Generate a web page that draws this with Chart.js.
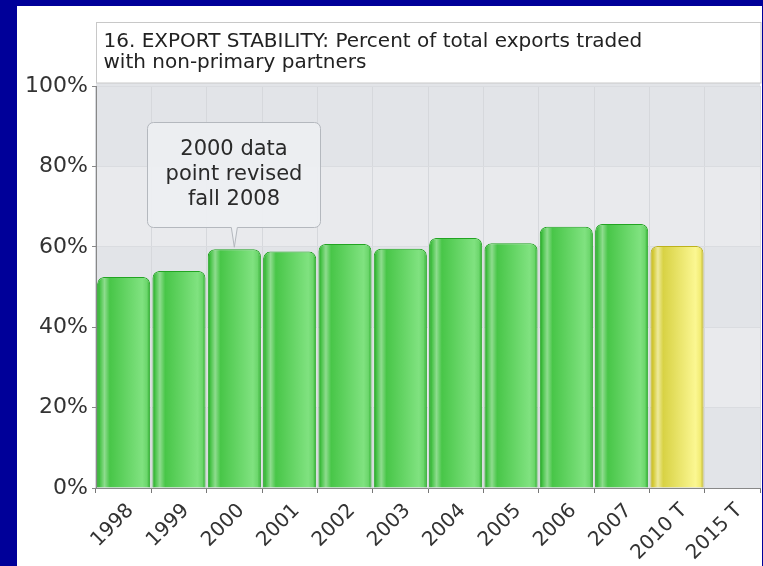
<!DOCTYPE html>
<html>
<head>
<meta charset="utf-8">
<script src="https://cdn.jsdelivr.net/npm/chart.js@4"></script>
<style>
  html, body { margin: 0; padding: 0; }
  body { background: #000099; width: 763px; height: 566px; overflow: hidden; position: relative; }
  #panel { position: absolute; left: 17px; top: 6px; width: 745px; height: 560px; background: #ffffff; }
  canvas { display: block; }
</style>
</head>
<body>
<div id="panel"><canvas id="chart" width="745" height="560"></canvas></div>
<script>
// chart data
const categories = ['1998', '1999', '2000', '2001', '2002', '2003', '2004', '2005', '2006', '2007', '2010 T', '2015 T'];
const exportShare = [52.5, 54.0, 59.4, 58.8, 60.7, 59.5, 62.2, 60.9, 65.0, 65.7, 60.2, null];
const isTarget = [false, false, false, false, false, false, false, false, false, false, true, true];
const yTicks = [0, 20, 40, 60, 80, 100];
const titleLines = ['16. EXPORT STABILITY: Percent of total exports traded', 'with non-primary partners'];
const noteLines = ['2000 data', 'point revised', 'fall 2008'];
const noteIndex = 2;

const FONT = '"DejaVu Sans", Verdana, sans-serif';

function barGradient(ctx, left, right, target) {
    var g = ctx.createLinearGradient(left, 0, right, 0);
    if (target) {
        g.addColorStop(0, '#c2b622');
        g.addColorStop(0.06, '#d6cc3c');
        g.addColorStop(0.14, '#eeea9c');
        g.addColorStop(0.24, '#d8d244');
        g.addColorStop(0.85, '#fbf792');
        g.addColorStop(0.94, '#f2ec74');
        g.addColorStop(1, '#bfb41e');
    } else {
        g.addColorStop(0, '#1ea41e');
        g.addColorStop(0.06, '#4ec64e');
        g.addColorStop(0.14, '#8edc8e');
        g.addColorStop(0.24, '#48c648');
        g.addColorStop(0.85, '#80e280');
        g.addColorStop(0.94, '#6cd66c');
        g.addColorStop(1, '#24aa24');
    }
    return g;
}

// light / darker bands behind the bars, plus the title box
const backdrop = {
    id: 'backdrop',
    beforeDraw(chart) {
        const { ctx, chartArea, scales } = chart;
        ctx.save();
        ctx.fillStyle = '#e2e4e8';
        ctx.fillRect(chartArea.left, chartArea.top - 3, chartArea.right - chartArea.left, chartArea.bottom - chartArea.top + 3);
        for (let i = 0; i < yTicks.length - 1; i++) {
            if (i % 2 === 1) {
                const yb = scales.y.getPixelForValue(yTicks[i]);
                const yt = scales.y.getPixelForValue(yTicks[i + 1]);
                ctx.fillStyle = '#e9eaed';
                ctx.fillRect(chartArea.left, yt, chartArea.right - chartArea.left, yb - yt);
            }
        }
        // title box
        const bx = chartArea.left + 0.5, by = 16.5;
        const bw = chart.width - 1 - bx, bh = chartArea.top - 3 - by;
        ctx.fillStyle = '#ffffff';
        ctx.fillRect(bx, by, bw, bh);
        ctx.strokeStyle = '#c8c8c8';
        ctx.lineWidth = 1;
        ctx.strokeRect(bx, by, bw, bh);
        ctx.fillStyle = '#222222';
        ctx.font = '20px ' + FONT;
        ctx.textBaseline = 'middle';
        ctx.textAlign = 'left';
        titleLines.forEach(function (line, i) {
            ctx.fillText(line, bx + 7, by + 19 + i * 21);
        });
        ctx.restore();
    }
};

// callout pointing at the revised bar
const callout = {
    id: 'callout',
    afterDatasetsDraw(chart) {
        const { ctx, scales } = chart;
        const tipX = scales.x.getPixelForValue(noteIndex);
        const tipY = scales.y.getPixelForValue(exportShare[noteIndex]) - 2;
        const w = 173, h = 105;
        const left = Math.round(tipX - 87) + 0.5;
        const bottom = Math.round(tipY - 20) + 0.5;
        const top = bottom - h;
        const r = 6;
        ctx.save();
        ctx.beginPath();
        ctx.moveTo(left + r, top);
        ctx.lineTo(left + w - r, top);
        ctx.arcTo(left + w, top, left + w, top + r, r);
        ctx.lineTo(left + w, bottom - r);
        ctx.arcTo(left + w, bottom, left + w - r, bottom, r);
        ctx.lineTo(tipX + 3, bottom);
        ctx.lineTo(tipX, tipY);
        ctx.lineTo(tipX - 3, bottom);
        ctx.lineTo(left + r, bottom);
        ctx.arcTo(left, bottom, left, bottom - r, r);
        ctx.lineTo(left, top + r);
        ctx.arcTo(left, top, left + r, top, r);
        ctx.closePath();
        ctx.fillStyle = 'rgba(236, 238, 241, 0.96)';
        ctx.fill();
        ctx.strokeStyle = '#b4b8be';
        ctx.lineWidth = 1;
        ctx.stroke();
        ctx.fillStyle = '#2a2a2a';
        ctx.font = '21px ' + FONT;
        ctx.textAlign = 'center';
        ctx.textBaseline = 'middle';
        noteLines.forEach(function (line, i) {
            ctx.fillText(line, left + w / 2, top + 27 + i * 25);
        });
        ctx.restore();
    }
};

new Chart(document.getElementById('chart'), {
    type: 'bar',
    data: {
        labels: categories,
        datasets: [{
            data: exportShare,
            backgroundColor: function (c) {
                const chart = c.chart;
                const target = isTarget[c.dataIndex];
                if (!chart.chartArea) return target ? '#e8e060' : '#55cc55';
                const x = chart.scales.x.getPixelForValue(c.dataIndex);
                const half = chart.scales.x.width / categories.length * 0.96 / 2;
                return barGradient(chart.ctx, x - half, x + half, target);
            },
            borderColor: isTarget.map(t => t ? '#bdb21c' : '#22a422'),
            borderWidth: 1,
            borderSkipped: 'bottom',
            borderRadius: { topLeft: 7, topRight: 7 },
            barPercentage: 1,
            categoryPercentage: 0.96
        }]
    },
    options: {
        responsive: false,
        animation: false,
        events: [],
        layout: { padding: { top: 80, right: 2, left: 0, bottom: 0 } },
        plugins: {
            legend: { display: false },
            title: { display: false },
            tooltip: { enabled: false }
        },
        scales: {
            x: {
                offset: true,
                grid: { offset: true, color: '#d6d8dc', tickColor: '#777777', tickLength: 5 },
                border: { color: '#888888' },
                ticks: {
                    color: '#333333',
                    font: { family: FONT, size: 20 },
                    minRotation: 45,
                    maxRotation: 45,
                    labelOffset: 7,
                    padding: 6
                },
                afterFit: function (scale) { scale.height = 78; }
            },
            y: {
                min: 0,
                max: 100,
                afterBuildTicks: function (scale) {
                    scale.ticks = yTicks.map(v => ({ value: v }));
                },
                grid: { color: '#dadce0', tickColor: '#888888', tickLength: 4 },
                border: { color: '#888888' },
                ticks: {
                    color: '#333333',
                    font: { family: FONT, size: 22 },
                    padding: 4,
                    callback: function (v) { return v + '%'; }
                },
                afterFit: function (scale) { scale.width = 79; }
            }
        }
    },
    plugins: [backdrop, callout]
});
</script>
</body>
</html>
